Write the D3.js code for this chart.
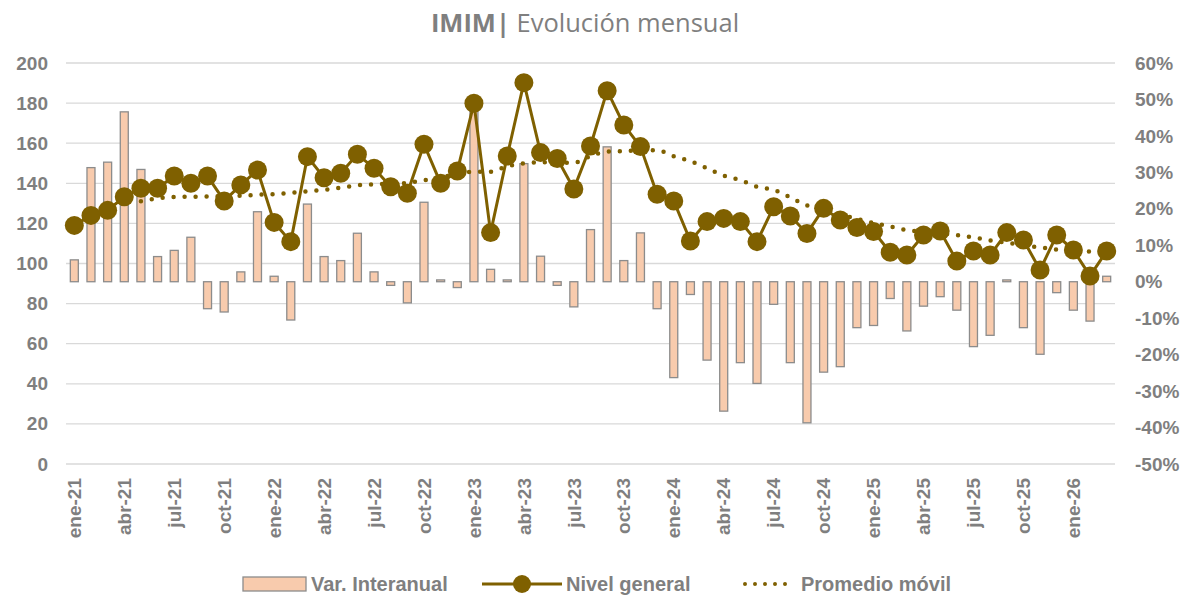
<!DOCTYPE html>
<html><head><meta charset="utf-8">
<script src="https://cdn.jsdelivr.net/npm/d3@7"></script>
<style>
html,body{margin:0;padding:0;background:#fff;}
svg{display:block;}
</style></head>
<body>
<svg id="c" width="1184" height="599"></svg>
<script>
const months = ["ene-21","feb-21","mar-21","abr-21","may-21","jun-21","jul-21","ago-21","sep-21","oct-21","nov-21","dic-21",
"ene-22","feb-22","mar-22","abr-22","may-22","jun-22","jul-22","ago-22","sep-22","oct-22","nov-22","dic-22",
"ene-23","feb-23","mar-23","abr-23","may-23","jun-23","jul-23","ago-23","sep-23","oct-23","nov-23","dic-23",
"ene-24","feb-24","mar-24","abr-24","may-24","jun-24","jul-24","ago-24","sep-24","oct-24","nov-24","dic-24",
"ene-25","feb-25","mar-25","abr-25","may-25","jun-25","jul-25","ago-25","sep-25","oct-25","nov-25","dic-25",
"ene-26","feb-26","mar-26"];
const tickMonths = ["ene-21","abr-21","jul-21","oct-21","ene-22","abr-22","jul-22","oct-22","ene-23","abr-23","jul-23","oct-23","ene-24","abr-24","jul-24","oct-24","ene-25","abr-25","jul-25","oct-25","ene-26"];
const nivelGeneral = [119,124,126.5,133.3,137.5,137.5,143.6,140,143.6,131.2,139.2,146.6,
120.5,110.9,153.3,142.8,145,154.5,147.5,138.3,135,159.5,140,146.1,
179.9,115.4,153.6,190.2,155.3,152.4,137.2,158.6,186.2,169.1,158.3,134.5,
131.2,111.2,120.9,122.5,120.9,110.9,128.3,123.7,115,127.5,121.7,118,
115.9,105.6,104.2,114.2,116.2,101.2,106.2,104.2,115.4,111.7,96.8,114.2,
106.7,93.8,106.2];
const varInteranual = [6,31.3,32.8,46.6,30.8,6.9,8.6,12.2,-7.4,-8.3,2.7,19.2,
1.5,-10.5,21.3,6.9,5.8,13.3,2.7,-1,-5.8,21.8,0.5,-1.6,
49,3.4,0.5,32.4,7,-1,-6.9,14.3,37,5.8,13.4,-7.4,
-26.3,-3.5,-21.5,-35.5,-22.2,-27.9,-6.2,-22.2,-38.7,-24.8,-23.3,-12.6,
-12,-4.6,-13.5,-6.7,-4.1,-7.8,-17.8,-14.7,0.5,-12.6,-19.9,-3,
-7.8,-10.8,1.5];
const promedioMovil = [null,null,null,null,131,132.5,133.2,133.3,133.4,133.6,133.8,134.3,
134.6,135.3,136,136.7,137.8,139,139.5,139.8,140.2,141.5,143,144.5,
145.8,145.8,148.5,150,150.5,150.2,150.3,153.5,155.8,156,156.6,156.5,
153.5,151,147.5,143.8,141.6,138.3,136.7,133,129,127,124.5,122.3,
120.2,118.4,116.7,115.8,115.1,114.2,113,111.5,110.3,109.2,108,107,
106.4,106,105.8];
const leftTicks = [0,20,40,60,80,100,120,140,160,180,200];
const rightTicks = [-50,-40,-30,-20,-10,0,10,20,30,40,50,60];

const svg = d3.select("#c");
const gray = "#7f7f7f";
const fontAxis = "'Liberation Sans', Arial, sans-serif";
const x = d3.scaleBand().domain(months).range([66,1115]).padding(0);
const yL = d3.scaleLinear().domain([0,200]).range([464,63]);
const yR = d3.scaleLinear().domain([-50,60]).range([464,63]);
const cx = m => x(m) + x.bandwidth()/2;

// gridlines
svg.append("g").selectAll("line").data(leftTicks).join("line")
  .attr("x1",66).attr("x2",1115).attr("y1",d=>yL(d)).attr("y2",d=>yL(d))
  .attr("stroke","#d9d9d9").attr("stroke-width",1.3);

// left axis
const gl = svg.append("g").attr("transform","translate(48,0)")
  .call(d3.axisLeft(yL).tickValues(leftTicks).tickSize(0).tickPadding(0));
gl.select(".domain").remove();
gl.selectAll("text").attr("font-family",fontAxis).attr("font-weight","bold").attr("font-size",19).attr("fill",gray);

// right axis
const gr = svg.append("g").attr("transform","translate(1135,0)")
  .call(d3.axisRight(yR).tickValues(rightTicks).tickSize(0).tickPadding(0).tickFormat(d=>d+"%"));
gr.select(".domain").remove();
gr.selectAll("text").attr("font-family",fontAxis).attr("font-weight","bold").attr("font-size",19).attr("fill",gray);

// bottom axis
const gb = svg.append("g").attr("transform","translate(0,476)")
  .call(d3.axisBottom(x).tickValues(tickMonths).tickSize(0).tickPadding(0));
gb.select(".domain").remove();
gb.selectAll("text").attr("font-family",fontAxis).attr("font-weight","bold").attr("font-size",19).attr("fill",gray)
  .attr("transform","rotate(-90)").attr("text-anchor","end").attr("x",-2).attr("y",0).attr("dy","0.35em");

// bars
const bw = 8;
svg.append("g").selectAll("rect").data(months).join("rect")
  .attr("x",(m)=>cx(m)-bw/2).attr("width",bw)
  .attr("y",(m,i)=>yR(Math.max(0,varInteranual[i])))
  .attr("height",(m,i)=>Math.max(1.2,Math.abs(yR(varInteranual[i])-yR(0))))
  .attr("fill","#f8cbad").attr("stroke","#8c8c8c").attr("stroke-width",1.3);

// moving average dotted
const lineMA = d3.line().defined(d=>d[1]!==null).x(d=>cx(d[0])).y(d=>yL(d[1])).curve(d3.curveMonotoneX);
svg.append("path").datum(months.map((m,i)=>[m,promedioMovil[i]]))
  .attr("d",lineMA).attr("fill","none").attr("stroke","#7f6000").attr("stroke-width",4.5)
  .attr("stroke-linecap","round").attr("stroke-dasharray","0 11");

// nivel general line + markers
const lineN = d3.line().x(d=>cx(d[0])).y(d=>yL(d[1]));
const nd = months.map((m,i)=>[m,nivelGeneral[i]]);
svg.append("path").datum(nd).attr("d",lineN).attr("fill","none").attr("stroke","#7f6000").attr("stroke-width",3);
svg.append("g").selectAll("circle").data(nd).join("circle")
  .attr("cx",d=>cx(d[0])).attr("cy",d=>yL(d[1])).attr("r",9.5).attr("fill","#7f6000");

// title
const t = svg.append("text").attr("x",585).attr("y",32).attr("text-anchor","middle")
  .attr("font-family","'Open Sans', sans-serif").attr("font-size",25.5).attr("fill",gray);
t.append("tspan").attr("font-weight","bold").text("IMIM|");
t.append("tspan").text(" Evolución mensual");

// legend
const lg = svg.append("g").attr("font-family","'Liberation Sans', Arial, sans-serif").attr("font-weight","bold").attr("font-size",20).attr("fill",gray);
const ly = 584;
lg.append("rect").attr("x",243).attr("y",ly-7).attr("width",63).attr("height",14).attr("fill","#f8cbad").attr("stroke","#8c8c8c").attr("stroke-width",1.3);
lg.append("text").attr("x",311).attr("y",ly).attr("dy","0.35em").text("Var. Interanual");
lg.append("line").attr("x1",482).attr("x2",562).attr("y1",ly).attr("y2",ly).attr("stroke","#7f6000").attr("stroke-width",3);
lg.append("circle").attr("cx",522).attr("cy",ly).attr("r",9).attr("fill","#7f6000");
lg.append("text").attr("x",566).attr("y",ly).attr("dy","0.35em").text("Nivel general");
lg.append("line").attr("x1",745).attr("x2",795).attr("y1",ly).attr("y2",ly).attr("stroke","#7f6000").attr("stroke-width",4).attr("stroke-linecap","round").attr("stroke-dasharray","0 10");
lg.append("text").attr("x",801).attr("y",ly).attr("dy","0.35em").text("Promedio móvil");
</script>
</body></html>
